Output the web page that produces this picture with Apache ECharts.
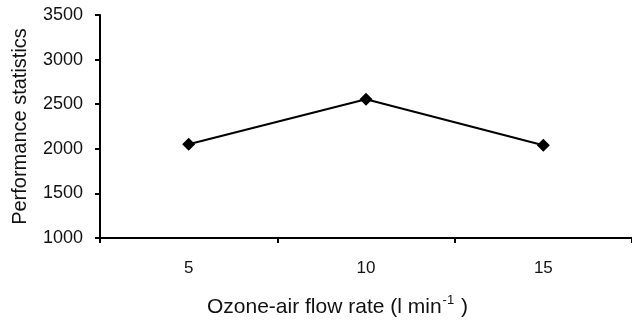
<!DOCTYPE html>
<html>
<head>
<meta charset="utf-8">
<script src="https://cdn.jsdelivr.net/npm/echarts@6/dist/echarts.min.js"></script>
<style>
  html, body { margin: 0; padding: 0; background: #fff; }
  #chart { width: 632px; height: 320px; }
</style>
</head>
<body>
<div id="chart"></div>
<script>
// values
const flowRates = ["5", "10", "15"];
const performance = [2050, 2555, 2040];
const yTicks = { min: 1000, max: 3500, interval: 500 };

const font = "'Liberation Sans', Arial, sans-serif";
const chart = echarts.init(document.getElementById("chart"));

chart.setOption({
  backgroundColor: "#fff",
  animation: false,
  grid: { left: 100, right: 0, top: 15, bottom: 82 },
  xAxis: {
    type: "category",
    data: flowRates,
    boundaryGap: true,
    axisLine: { lineStyle: { color: "#000", width: 2 } },
    axisTick: { show: true, length: 5, lineStyle: { color: "#000", width: 2 } },
    axisLabel: { color: "#111", fontFamily: font, fontSize: 17, margin: 22 },
    splitLine: { show: false },
  },
  yAxis: {
    type: "value",
    min: yTicks.min,
    max: yTicks.max,
    interval: yTicks.interval,
    name: "Performance statistics",
    nameLocation: "middle",
    nameGap: 70,
    nameTextStyle: { color: "#111", fontFamily: font, fontSize: 20 },
    axisLine: { show: true, lineStyle: { color: "#000", width: 2 } },
    axisTick: { show: true, length: 5, lineStyle: { color: "#000", width: 2 } },
    axisLabel: { color: "#111", fontFamily: font, fontSize: 18, margin: 17, formatter: (v) => String(v) },
    splitLine: { show: false },
  },
  graphic: [
    {
      type: "text",
      left: 207,
      top: 294,
      style: {
        text: "{n|Ozone-air flow rate (l min}{s|-1}{n| )}",
        rich: {
          n: { fontFamily: font, fontSize: 21, fill: "#111", verticalAlign: "bottom", lineHeight: 24 },
          s: { fontFamily: font, fontSize: 13, fill: "#111", verticalAlign: "top", lineHeight: 24, padding: [0, 1, 10, 1] },
        },
      },
    },
  ],
  series: [
    {
      type: "line",
      data: performance,
      symbol: "diamond",
      symbolSize: 13,
      lineStyle: { color: "#000", width: 2 },
      itemStyle: { color: "#000" },
    },
  ],
});
</script>
</body>
</html>
